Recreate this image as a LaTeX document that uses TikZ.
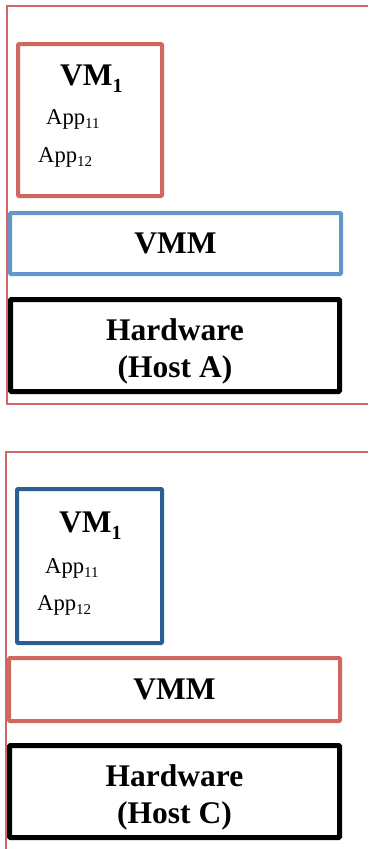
\documentclass[tikz,border=0pt]{standalone}
\usepackage{fontspec}
\setmainfont{Liberation Serif}
\usepackage{tikz}
\usetikzlibrary{positioning}
\usetikzlibrary{calc}

\definecolor{hostred}{RGB}{208,103,96}
\definecolor{vmmblue}{RGB}{99,151,204}
\definecolor{vmblue}{RGB}{43,94,147}

\newcommand{\vmname}{\textbf{VM\raisebox{-7pt}{\fontsize{20}{20}\selectfont 1}}}
\newcommand{\appname}[1]{App\raisebox{-4pt}{\fontsize{15}{15}\selectfont #1}}

\begin{document}
\begin{tikzpicture}[x=1pt, y=-1pt,
  layer/.style={draw, rectangle, rounded corners=1pt, inner sep=0pt},
  big/.style={font=\fontsize{31.5}{37}\selectfont\bfseries, align=center},
  app/.style={font=\fontsize{22.6}{26}\selectfont, anchor=base west, inner sep=0pt}]

\useasboundingbox (0,0) rectangle (368,849);

% host A
\draw[hostred, line width=1.5pt] (368,6) -- (7,6) -- (7,404) -- (368,404);
\node[layer, hostred, line width=4pt, minimum width=144pt, minimum height=152pt] (vma) at (90,120) {};
\node[layer, vmmblue, line width=4pt, minimum width=331pt, minimum height=61pt] (vmma) at (175.5,243.5) {};
\node[layer, black, line width=5pt, minimum width=329pt, minimum height=92pt] (hwa) at (175,345.5) {};
\node[big, anchor=base west, inner sep=0pt] (vmta) at (60,85) {\vmname};
\node[app] (appaa) at (46,124) {\appname{11}};
\node[app] (appab) at (38,162) {\appname{12}};
\node[big] (vmmta) at (vmma) {VMM};
\node[big] (hwta) at ($(hwa)+(0,6)$) {Hardware\\(Host A)};

% host C
\draw[hostred, line width=1.5pt] (368,452) -- (6,452) -- (6,849);
\node[layer, vmblue, line width=4pt, minimum width=145pt, minimum height=154pt] (vmc) at (89.5,566) {};
\node[layer, hostred, line width=4pt, minimum width=331pt, minimum height=63pt] (vmmc) at (174.5,689.5) {};
\node[layer, black, line width=5pt, minimum width=330pt, minimum height=92pt] (hwc) at (174.5,791.5) {};
\node[big, anchor=base west, inner sep=0pt] (vmtc) at (59,532) {\vmname};
\node[app] (appca) at (45,573) {\appname{11}};
\node[app] (appcb) at (37,610) {\appname{12}};
\node[big] (vmmtc) at (vmmc) {VMM};
\node[big] (hwtc) at ($(hwc)+(0,6)$) {Hardware\\(Host C)};

\end{tikzpicture}
\end{document}
